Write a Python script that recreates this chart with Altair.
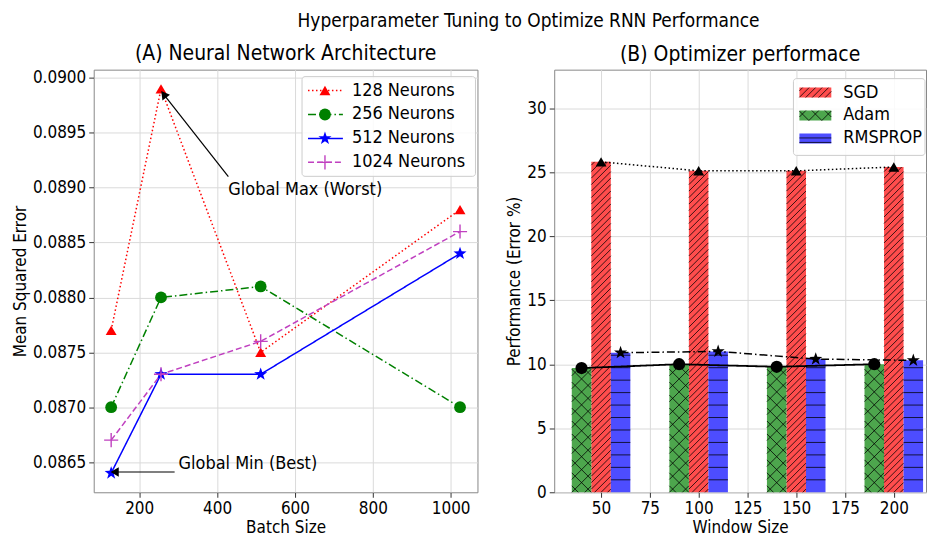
import altair as alt
import numpy as np
import pandas as pd

# ---------------- data ----------------
batch_sizes = [128, 256, 512, 1024]
neuron_series = ["128 Neurons", "256 Neurons", "512 Neurons", "1024 Neurons"]
mse_128 = [0.0877, 0.0899, 0.0875, 0.0888]
mse_256 = [0.0870, 0.0880, 0.0881, 0.0870]
mse_512 = [0.0864, 0.0873, 0.0873, 0.0884]
mse_1024 = [0.0867, 0.0873, 0.0876, 0.0886]
mse_ticks = [0.0865, 0.0870, 0.0875, 0.0880, 0.0885, 0.0890, 0.0895, 0.0900]
batch_ticks = [200, 400, 600, 800, 1000]

window_sizes = [50, 100, 150, 200]
optimizer_names = ["SGD", "Adam", "RMSPROP"]
sgd_error = [25.8, 25.1, 25.1, 25.4]
adam_error = [9.7, 10.0, 9.8, 10.0]
rmsprop_error = [10.9, 11.0, 10.4, 10.3]
window_ticks = [50, 75, 100, 125, 150, 175, 200]
error_ticks = [0, 5, 10, 15, 20, 25, 30]

ann_labels = ["Global Max (Worst)", "Global Min (Best)"]
ann_text_batch = [429, 301]
ann_text_mse = [0.08898, 0.08648]
ann_from_batch = [429, 291]
ann_from_mse = [0.08910, 0.08641]
ann_to_batch = [263, 137]
ann_to_mse = [0.08985, 0.08641]

# ---------------- styling ----------------
FONT = "DejaVu Sans Condensed, DejaVu Sans"
WA, HA = 385, 424
WR, HR = 373, 424
XA_DOM = [83.2, 1068.8]
YA_DOM = [0.086225, 0.090075]
XR_DOM = [26, 216.5]
YR_DOM = [0, 33]


def star_path(r_in=0.4):
    pts = []
    for i in range(10):
        ang = -np.pi / 2 + i * np.pi / 5
        r = 1.0 if i % 2 == 0 else r_in
        pts.append((r * np.cos(ang), r * np.sin(ang)))
    return "M" + "L".join(f"{x:.3f},{y:.3f}" for x, y in pts) + "Z"


STAR = star_path()
PLUS = "M-1,0L1,0M0,-1L0,1"

styleA = {
    "128 Neurons": dict(color="#ff0000", dash=[1.5, 2.5], shape="triangle-up", size=120, filled=True),
    "256 Neurons": dict(color="#008000", dash=[8, 3, 1.5, 3], shape="circle", size=140, filled=True),
    "512 Neurons": dict(color="#0000ff", dash=[1, 0], shape=STAR, size=190, filled=True),
    "1024 Neurons": dict(color="#c040c0", dash=[6, 3], shape=PLUS, size=200, filled=False),
}

# ---------------- panel A ----------------
dfA = pd.DataFrame(
    [
        {"series": s, "batch": b, "mse": v}
        for s, vals in zip(neuron_series, [mse_128, mse_256, mse_512, mse_1024])
        for b, v in zip(batch_sizes, vals)
    ]
)

xA = alt.X(
    "batch:Q",
    scale=alt.Scale(domain=XA_DOM, nice=False, zero=False),
    axis=alt.Axis(values=batch_ticks, title="Batch Size", format="d"),
)
yA = alt.Y(
    "mse:Q",
    scale=alt.Scale(domain=YA_DOM, nice=False, zero=False),
    axis=alt.Axis(values=mse_ticks, title="Mean Squared Error", format=".4f"),
)

layersA = []
for s in neuron_series:
    st = styleA[s]
    d = dfA[dfA.series == s]
    layersA.append(
        alt.Chart(d).mark_line(color=st["color"], strokeDash=st["dash"], strokeWidth=1.5).encode(x=xA, y=yA)
    )
    layersA.append(
        alt.Chart(d)
        .mark_point(
            shape=st["shape"], size=st["size"], filled=st["filled"], color=st["color"],
            opacity=1, strokeWidth=1.4,
        )
        .encode(x=xA, y=yA)
    )

ann_rules = pd.DataFrame(
    {"batch": ann_from_batch, "mse": ann_from_mse, "batch2": ann_to_batch, "mse2": ann_to_mse}
)
ann_heads = pd.DataFrame({"batch": ann_to_batch, "mse": ann_to_mse, "angle": [323, 270]})
ann_texts = pd.DataFrame({"batch": ann_text_batch, "mse": ann_text_mse, "label": ann_labels})

layersA.append(
    alt.Chart(ann_rules).mark_rule(color="black", strokeWidth=1.2).encode(x=xA, y=yA, x2="batch2:Q", y2="mse2:Q")
)
layersA.append(
    alt.Chart(ann_heads)
    .mark_point(shape="triangle-up", filled=True, color="black", size=90, opacity=1)
    .encode(x=xA, y=yA, angle=alt.Angle("angle:Q", scale=None))
)
layersA.append(
    alt.Chart(ann_texts)
    .mark_text(align="left", baseline="middle", fontSize=18, font=FONT, color="black")
    .encode(x=xA, y=yA, text="label:N")
)

# legend A (manual, inside upper right)
one = pd.DataFrame({"k": [0]})
layersA.append(
    alt.Chart(one)
    .mark_rect(fill="white", fillOpacity=0.85, stroke="#cccccc", strokeWidth=1, cornerRadius=3)
    .encode(x=alt.value(209), x2=alt.value(383), y=alt.value(7), y2=alt.value(107))
)
for i, s in enumerate(neuron_series):
    st = styleA[s]
    yy = 21 + 24 * i
    layersA.append(
        alt.Chart(one)
        .mark_rule(color=st["color"], strokeDash=st["dash"], strokeWidth=1.5)
        .encode(x=alt.value(215), x2=alt.value(250), y=alt.value(yy))
    )
    layersA.append(
        alt.Chart(one)
        .mark_point(shape=st["shape"], size=st["size"], filled=st["filled"], color=st["color"], opacity=1, strokeWidth=1.4)
        .encode(x=alt.value(232), y=alt.value(yy))
    )
    layersA.append(
        alt.Chart(one)
        .mark_text(align="left", baseline="middle", fontSize=18, font=FONT, color="black", text=s)
        .encode(x=alt.value(259), y=alt.value(yy))
    )

left = alt.layer(*layersA).properties(
    width=WA, height=HA,
    title=alt.TitleParams("(A) Neural Network Architecture", fontSize=21, offset=5, font=FONT),
)

# ---------------- panel B ----------------
opt_values = {"SGD": sgd_error, "Adam": adam_error, "RMSPROP": rmsprop_error}
opt_offset = {"Adam": -10, "SGD": 0, "RMSPROP": 10}
opt_fill = {"SGD": "#ff4d4d", "Adam": "#4da64d", "RMSPROP": "#4d4dff"}
opt_line = {
    "SGD": dict(dash=[1.5, 2.5], shape="triangle-up", size=120, width=1.5),
    "Adam": dict(dash=[1, 0], shape="circle", size=150, width=1.8),
    "RMSPROP": dict(dash=[8, 3, 1.5, 3], shape=STAR, size=190, width=1.5),
}

bar_rows = []
for o in optimizer_names:
    for w, v in zip(window_sizes, opt_values[o]):
        c = w + opt_offset[o]
        bar_rows.append({"opt": o, "window": c - 5, "window2": c + 5, "err": v, "zero": 0.0, "center": c})
dfB = pd.DataFrame(bar_rows)

xR = alt.X(
    "window:Q",
    scale=alt.Scale(domain=XR_DOM, nice=False, zero=False),
    axis=alt.Axis(values=window_ticks, title="Window Size"),
)
yR = alt.Y(
    "err:Q",
    scale=alt.Scale(domain=YR_DOM, nice=False, zero=True),
    axis=alt.Axis(values=error_ticks, title="Performance (Error %)"),
)

kx = WR / (XR_DOM[1] - XR_DOM[0])
ky = HR / (YR_DOM[1] - YR_DOM[0])


def clip_lines(x0, x1, y0, y1, slope, step):
    segs = []
    if slope == 0:
        y = y0 + step
        while y < y1 - 1e-9:
            segs.append((x0, y, x1, y))
            y += step
        return segs
    w = x1 - x0
    lo_c = min(y0, y0 - slope * w)
    hi_c = max(y1, y1 - slope * w)
    for c in np.arange(lo_c + step / 2, hi_c, step):
        xa = x0 + (y0 - c) / slope
        xb = x0 + (y1 - c) / slope
        lo = max(x0, min(xa, xb))
        hi = min(x1, max(xa, xb))
        if hi - lo > 1e-9:
            segs.append((lo, c + slope * (lo - x0), hi, c + slope * (hi - x0)))
    return segs


hatch_spec = {
    "SGD": [(kx / ky, 6.5 / ky)],
    "Adam": [(kx / ky, 13 / ky), (-kx / ky, 13 / ky)],
    "RMSPROP": [(0, 12.5 / ky)],
}
hatch_rows = []
for r in bar_rows:
    for slope, step in hatch_spec[r["opt"]]:
        for a, b, c, d in clip_lines(r["window"], r["window2"], 0, r["err"], slope, step):
            hatch_rows.append({"window": a, "err": b, "window2": c, "err2": d})
dfH = pd.DataFrame(hatch_rows)

layersB = [
    alt.Chart(dfB)
    .mark_rect(opacity=1)
    .encode(
        x=xR, x2="window2:Q", y=yR, y2="zero:Q",
        fill=alt.Fill("opt:N", scale=alt.Scale(domain=optimizer_names, range=[opt_fill[o] for o in optimizer_names]), legend=None),
    ),
    alt.Chart(dfH).mark_rule(color="black", strokeWidth=0.9, opacity=0.85).encode(x=xR, x2="window2:Q", y=yR, y2="err2:Q"),
]

for o in optimizer_names:
    st = opt_line[o]
    d = pd.DataFrame({"window": [w + opt_offset[o] for w in window_sizes], "err": opt_values[o]})
    layersB.append(alt.Chart(d).mark_line(color="black", strokeDash=st["dash"], strokeWidth=st["width"]).encode(x=xR, y=yR))
    layersB.append(
        alt.Chart(d).mark_point(shape=st["shape"], size=st["size"], filled=True, color="black", opacity=1).encode(x=xR, y=yR)
    )

# legend B (manual)
layersB.append(
    alt.Chart(one)
    .mark_rect(fill="white", fillOpacity=0.85, stroke="#cccccc", strokeWidth=1, cornerRadius=3)
    .encode(x=alt.value(240), x2=alt.value(372), y=alt.value(9), y2=alt.value(86))
)
leg_hatch_px = {"SGD": [(-1, 6.5)], "Adam": [(-1, 13), (1, 13)], "RMSPROP": [(0, 4.5)]}
for i, o in enumerate(optimizer_names):
    yy = 23 + 23 * i
    sx0, sx1, sy0, sy1 = 246, 278, yy - 5, yy + 5
    layersB.append(
        alt.Chart(one)
        .mark_rect(fill=opt_fill[o])
        .encode(x=alt.value(sx0), x2=alt.value(sx1), y=alt.value(sy0), y2=alt.value(sy1))
    )
    for slope, step in leg_hatch_px[o]:
        for a, b, c, d in clip_lines(sx0, sx1, sy0, sy1, slope, step):
            layersB.append(
                alt.Chart(one)
                .mark_rule(color="black", strokeWidth=0.9, opacity=0.85)
                .encode(x=alt.value(a), y=alt.value(b), x2=alt.value(c), y2=alt.value(d))
            )
    layersB.append(
        alt.Chart(one)
        .mark_text(align="left", baseline="middle", fontSize=18, font=FONT, color="black", text=o)
        .encode(x=alt.value(290), y=alt.value(yy))
    )

right = alt.layer(*layersB).properties(
    width=WR, height=HR,
    title=alt.TitleParams("(B) Optimizer performace", fontSize=21, offset=5, font=FONT),
)

chart = (
    alt.hconcat(left, right, spacing=27)
    .properties(
        title=alt.TitleParams(
            "Hyperparameter Tuning to Optimize RNN Performance",
            fontSize=19, anchor="middle", dx=60, offset=12, font=FONT,
        )
    )
    .configure(font=FONT, padding={"left": 3, "top": 2, "right": 0, "bottom": 0})
    .configure_axis(
        labelFont=FONT, titleFont=FONT, labelFontSize=17, titleFontSize=17,
        labelColor="black", titleColor="black", titleFontWeight="normal",
        tickColor="#333333", tickSize=5, domain=False, grid=True, gridColor="#dadada",
        labelPadding=3, titlePadding=3,
    )
    .configure_view(stroke="#888888", strokeWidth=1)
    .configure_title(font=FONT, fontWeight="normal", color="black")
)

chart.save("out.html", embed_options={"renderer": "svg", "actions": False})
